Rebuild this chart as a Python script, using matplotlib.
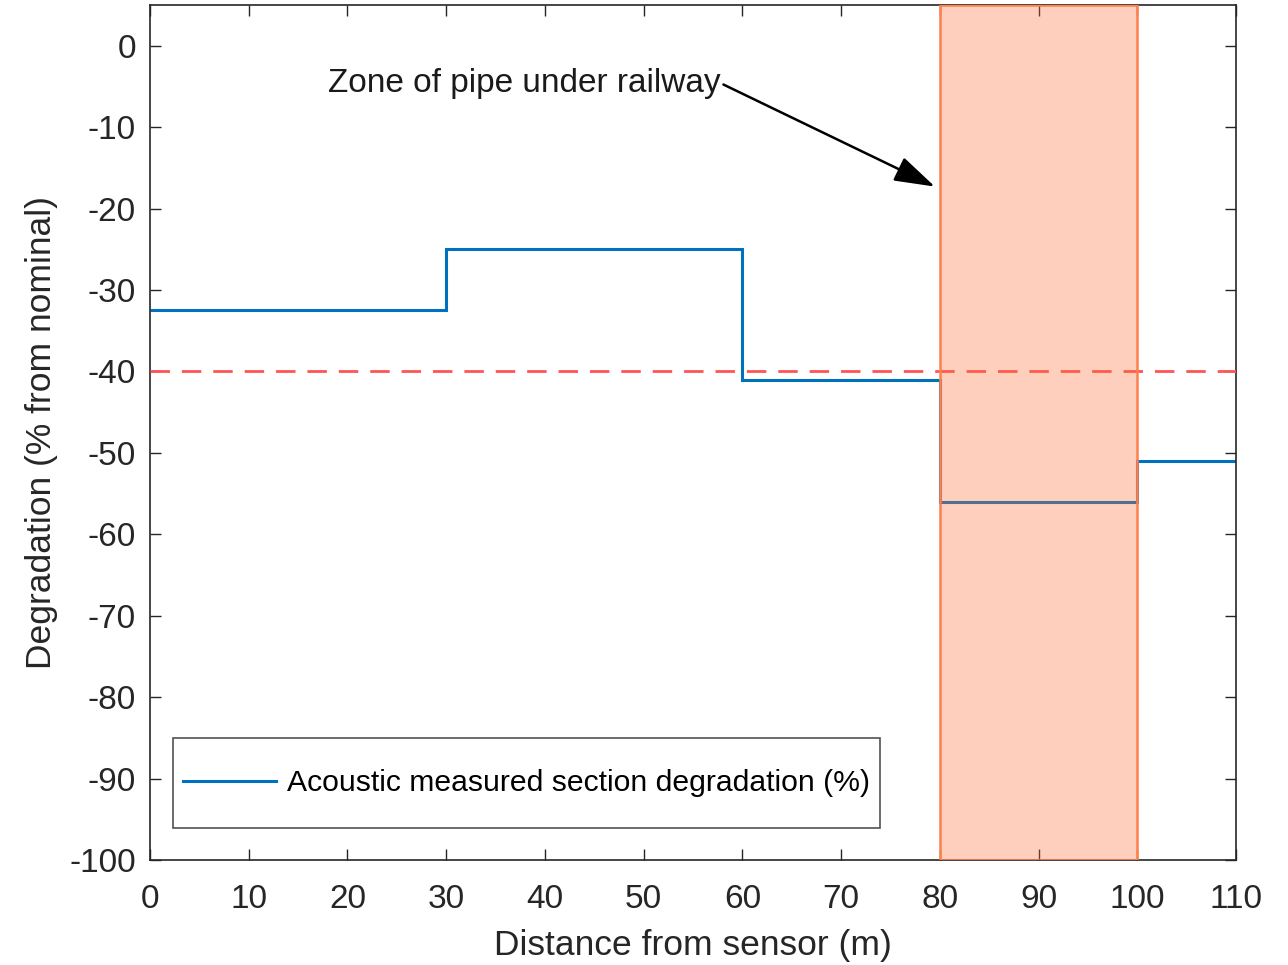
import matplotlib
matplotlib.use("Agg")
import matplotlib.pyplot as plt
from matplotlib.patches import Rectangle
from matplotlib.path import Path

plt.rcParams['font.family'] = ['Liberation Sans', 'DejaVu Sans']
plt.rcParams['axes.unicode_minus'] = False

# data
section_edges = [0, 30, 60, 80, 100, 110]
section_degradation = [-32.5, -25, -41, -56, -51]
threshold = -40
zone_start, zone_end = 80, 100
x_ticks = [0, 10, 20, 30, 40, 50, 60, 70, 80, 90, 100, 110]
y_ticks = [0, -10, -20, -30, -40, -50, -60, -70, -80, -90, -100]

fig = plt.figure(figsize=(12.88, 9.65), dpi=100)
ax = fig.add_axes([150/1288, 1-860/965, (1236-150)/1288, (860-5)/965])

blue = '#0072BD'
ax.stairs(section_degradation, section_edges, color=blue, linewidth=2.2,
          label='Acoustic measured section degradation (%)', baseline=None, zorder=2)
ax.axhline(threshold, color=(1, 0.33, 0.33), linestyle=(0, (7, 4.3)), linewidth=2.0, zorder=3)

ax.add_patch(Rectangle((zone_start, -100), zone_end - zone_start, 105,
                       facecolor=(1, 0.42, 0.2, 0.32), edgecolor=(1, 0.5, 0.3), linewidth=1.8, zorder=4))

ax.annotate('Zone of pipe under railway', xy=(79.5, -17.3), xytext=(57.8, -4.6),
            ha='right', va='center', fontsize=24, color='#1a1a1a',
            arrowprops=dict(arrowstyle='-|>,head_length=1.05,head_width=0.33', color='black',
                            lw=1.8, shrinkA=0, shrinkB=0, relpos=(1, 0.5)), zorder=5)

ax.set_xlim(0, 110)
ax.set_ylim(-100, 5)
ax.set_xticks(x_ticks)
ax.set_yticks(y_ticks)
ax.tick_params(direction='in', top=True, right=True, length=8, width=1.0,
               labelsize=24, colors='#262626')
ax.tick_params(axis='x', pad=17)
ax.tick_params(axis='y', pad=10)
for s in ax.spines.values():
    s.set_color('#262626')
    s.set_linewidth(1.2)
ax.set_xlabel('Distance from sensor (m)', fontsize=25.5, color='#262626', labelpad=10)
ax.set_ylabel('Degradation (% from nominal)', fontsize=25.5, color='#262626', labelpad=8)

EXTRA_V = 0.69


def vpad_box(x0, y0, width, height, mutation_size):
    dy = EXTRA_V * mutation_size
    return Path([(x0, y0 - dy), (x0 + width, y0 - dy), (x0 + width, y0 + height + dy),
                 (x0, y0 + height + dy), (x0, y0 - dy)], closed=True)


leg = ax.legend(loc='lower left', bbox_to_anchor=(23/1086, 53/855), fontsize=21.7,
                handlelength=3.1, frameon=True, fancybox=False,
                borderpad=0.33, handletextpad=0.35, borderaxespad=0)
leg.get_frame().set_boxstyle(vpad_box)
leg.get_frame().set_edgecolor('#262626')
leg.get_frame().set_linewidth(1.2)

fig.savefig('out.png', dpi=100)
